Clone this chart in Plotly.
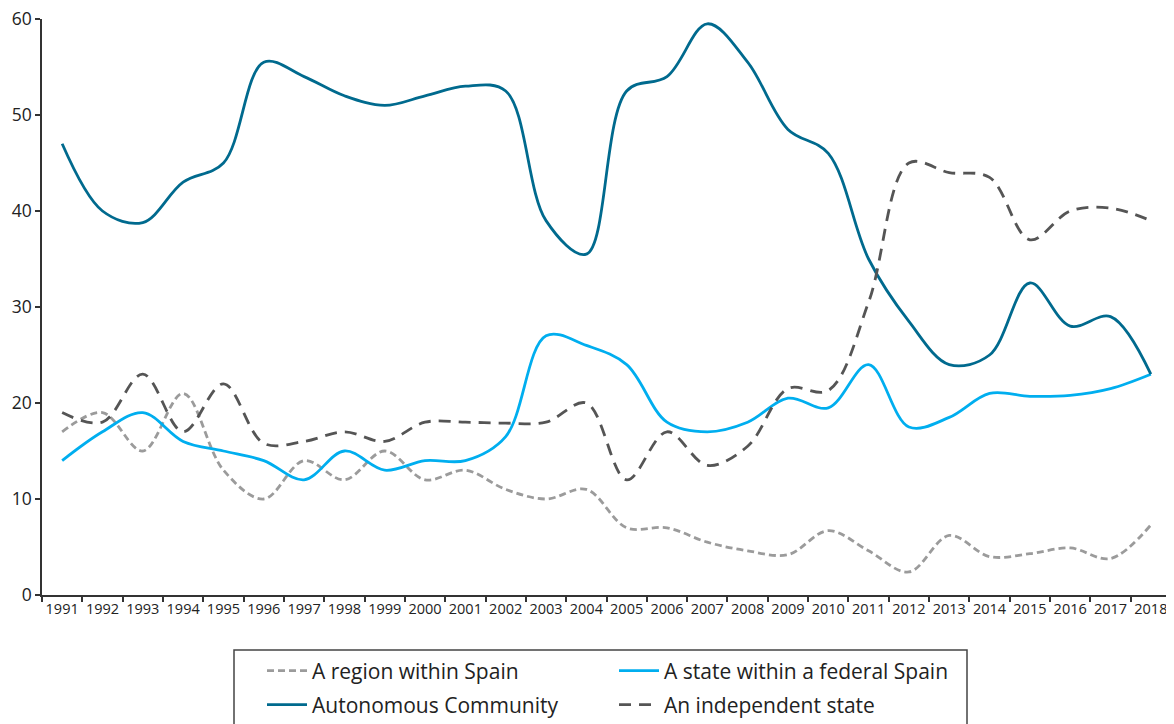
import plotly.graph_objects as go

years = [str(y) for y in range(1991, 2019)]

region_within_spain = [17, 19, 15, 21, 13, 10, 14, 12, 15, 12, 13, 11, 10, 11, 7, 7, 5.5, 4.6, 4.2, 6.7, 4.6, 2.4, 6.2, 4, 4.3, 4.9, 3.8, 7.3]
state_federal_spain = [14, 17, 19, 16, 15, 14, 12, 15, 13, 14, 14, 16.5, 27, 26, 24, 18, 17, 18, 20.5, 19.5, 24, 17.5, 18.5, 21, 20.7, 20.8, 21.5, 23]
autonomous_community = [47, 40, 38.8, 43, 45, 55.5, 54, 52, 51, 52, 53, 52.5, 39, 35.5, 52.5, 54, 59.5, 55.5, 48.5, 46, 35, 28.5, 24, 25, 32.5, 28, 29, 23]
independent_state = [19, 18, 23, 17, 22, 15.8, 16, 17, 16, 18, 18, 17.9, 18, 20, 12, 17, 13.5, 15.5, 21.5, 21.3, 30.5, 45, 44, 43.5, 37, 40, 40.3, 39]

y_ticks = [0, 10, 20, 30, 40, 50, 60]

C_TEAL = "#006A8E"
C_BLUE = "#00AEEF"
C_DARK = "#555555"
C_LIGHT = "#9B9B9B"

fig = go.Figure()
fig.add_trace(go.Scatter(x=years, y=region_within_spain, name="A region within Spain", mode="lines",
                         line=dict(color=C_LIGHT, width=2.8, dash="7px,4px", shape="spline"), legend="legend"))
fig.add_trace(go.Scatter(x=years, y=state_federal_spain, name="A state within a federal Spain", mode="lines",
                         line=dict(color=C_BLUE, width=2.8, shape="spline"), legend="legend"))
fig.add_trace(go.Scatter(x=years, y=autonomous_community, name="Autonomous Community", mode="lines",
                         line=dict(color=C_TEAL, width=2.8, shape="spline"), legend="legend2"))
fig.add_trace(go.Scatter(x=years, y=independent_state, name="An independent state", mode="lines",
                         line=dict(color=C_DARK, width=2.8, dash="12px,8px", shape="spline"), legend="legend2"))

# page has an 8px body margin; figure is sized to fill the rest of the window
L, R, T, B = 34, 3, 11, 129
W, H = 1166, 716
pw = W - L - R
ph = H - T - B

def px2x(px):
    # px measured in window pixels
    return (px - 8 - L) / pw

def py2y(py):
    return (H - B - (py - 8)) / ph

legend_common = dict(orientation="h", xanchor="left", yanchor="middle",
                     font=dict(family="Open Sans", size=21, color="#222222"),
                     bgcolor="rgba(0,0,0,0)", borderwidth=0, itemwidth=40,
                     entrywidth=297, entrywidthmode="pixels", tracegroupgap=0)

fig.update_layout(
    width=W, height=H,
    margin=dict(l=L, r=R, t=T, b=B, pad=0, autoexpand=False),
    paper_bgcolor="white", plot_bgcolor="white",
    showlegend=True,
    legend=dict(x=px2x(262), y=py2y(671), **legend_common),
    legend2=dict(x=px2x(262), y=py2y(705), **legend_common),
    xaxis=dict(type="category", tickson="boundaries", ticks="outside", ticklen=5, tickwidth=1.5,
               tickcolor="#333333", showline=True, linecolor="#333333", linewidth=1.5,
               showgrid=False, zeroline=False, range=[-0.5, 27.5], tickangle=0, automargin=False,
               ticklabeloverflow="allow",
               tickfont=dict(family="Open Sans", size=14.5, color="#222222")),
    yaxis=dict(range=[0, 60], tickvals=y_ticks, ticks="outside", ticklen=5, tickwidth=1.5,
               tickcolor="#333333", showline=True, linecolor="#333333", linewidth=1.5,
               showgrid=False, zeroline=False, automargin=False, ticklabeloverflow="allow",
               tickfont=dict(family="Open Sans", size=17.5, color="#222222")),
    shapes=[dict(type="rect", xref="paper", yref="paper",
                 x0=px2x(234), x1=px2x(967), y0=py2y(650), y1=py2y(735),
                 line=dict(color="#444444", width=1.5), fillcolor="rgba(0,0,0,0)", layer="above")],
)

fig.write_html("out.html")
